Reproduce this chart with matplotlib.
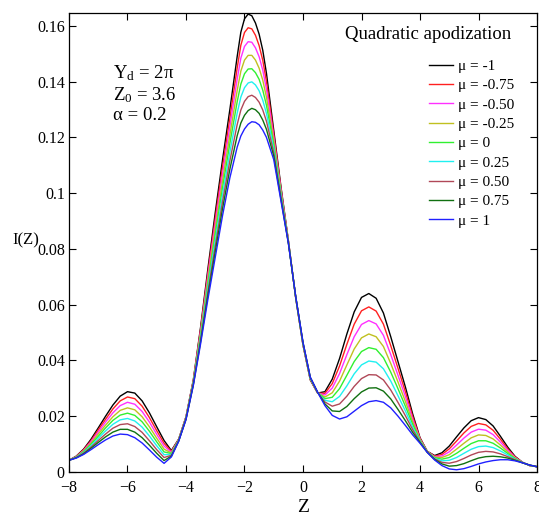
import matplotlib
matplotlib.use("Agg")
import matplotlib.pyplot as plt
import numpy as np
from matplotlib.ticker import FuncFormatter

plt.rcParams['font.family'] = ['Liberation Serif', 'DejaVu Serif']
plt.rcParams['mathtext.fontset'] = 'custom'
plt.rcParams['mathtext.rm'] = 'Liberation Serif'
plt.rcParams['mathtext.it'] = 'Liberation Serif:italic'

# Z grid: step 0.25, finer (0.125) over the top of the main peak
z = np.r_[np.arange(-8, -2.2, 0.25), np.arange(-2.125, -1.3, 0.125), np.arange(-1.25, 8.01, 0.25)]

# I(Z), in units of 1e-3
mu_m100 = [4.2, 5.7, 8.2, 11.7, 15.8, 20.0, 24.0, 27.2, 28.8, 28.3, 25.5, 21.2, 16.2,
           11.3, 7.7, 11.8, 19.8, 33.0, 52.0, 73.0, 93.0, 112.0, 130.0, 149.0, 157.7, 162.5, 164.2, 163.6,
           161.0, 157.0, 151.2, 143.0, 122.5, 102.0, 83.0, 62.5, 45.5, 33.0, 28.3, 28.8, 33.3, 40.7, 49.5,
           57.4, 62.6, 64.0, 62.3, 57.0, 48.5, 39.5, 30.5, 20.8, 12.3, 7.4, 5.9, 6.9,
           9.3, 12.6, 15.8, 18.4, 19.5, 18.8, 16.5, 12.8, 8.9, 5.6, 3.5, 2.3, 1.9]
mu_m075 = [4.2, 5.6, 8.0, 11.2, 15.1, 18.9, 22.6, 25.5, 26.9, 26.3, 23.6, 19.5, 14.8,
           10.3, 7.4, 11.7, 19.7, 32.75, 51.3, 71.6, 91.0, 109.5, 126.9, 144.9, 153.05, 157.6, 159.3, 158.9,
           156.6, 152.9, 147.6, 140.1, 121.2, 101.4, 82.9, 62.6, 45.6, 33.1, 28.3, 28.2, 31.7, 38.0, 45.8,
           53.0, 57.8, 59.2, 57.7, 53.0, 45.3, 37.1, 28.8, 19.9, 12.1, 7.35, 5.7, 6.3,
           8.3, 11.1, 14.0, 16.35, 17.4, 16.9, 14.95, 11.75, 8.3, 5.4, 3.5, 2.3, 1.9]
mu_m050 = [4.2, 5.5, 7.7, 10.8, 14.3, 17.9, 21.2, 23.8, 25.0, 24.3, 21.7, 17.9, 13.5,
           9.3, 7.1, 11.6, 19.6, 32.5, 50.5, 70.3, 89.0, 107.0, 123.9, 140.9, 148.4, 152.6, 154.3, 154.1,
           152.1, 148.9, 144.1, 137.3, 119.9, 100.8, 82.8, 62.6, 45.8, 33.3, 28.4, 27.6, 30.1, 35.3, 42.1,
           48.5, 52.9, 54.3, 53.1, 49.0, 42.1, 34.6, 27.1, 18.9, 11.8, 7.3, 5.5, 5.75,
           7.25, 9.65, 12.15, 14.3, 15.35, 15.0, 13.4, 10.7, 7.8, 5.2, 3.45, 2.35, 1.9]
mu_m025 = [4.2, 5.4, 7.5, 10.3, 13.6, 16.8, 19.8, 22.1, 23.0, 22.3, 19.8, 16.2, 12.1,
           8.2, 6.8, 11.5, 19.4, 32.25, 49.8, 68.9, 87.0, 104.5, 120.8, 136.8, 143.75, 147.7, 149.4, 149.4,
           147.7, 144.8, 140.5, 134.4, 118.6, 100.1, 82.6, 62.7, 45.9, 33.4, 28.4, 26.9, 28.4, 32.6, 38.4,
           44.1, 48.1, 49.5, 48.5, 45.0, 38.9, 32.2, 25.3, 18.0, 11.6, 7.25, 5.3, 5.2,
           6.2, 8.2, 10.3, 12.25, 13.3, 13.1, 11.85, 9.65, 7.2, 5.0, 3.4, 2.4, 1.9]
mu_000 = [4.2, 5.35, 7.3, 9.9, 12.8, 15.8, 18.5, 20.4, 21.1, 20.3, 18.0, 14.6, 10.8,
          7.2, 6.6, 11.4, 19.3, 32.0, 49.0, 67.5, 85.0, 102.0, 117.8, 132.8, 139.1, 142.8, 144.5, 144.6,
          143.2, 140.8, 136.9, 131.5, 117.3, 99.5, 82.5, 62.8, 46.0, 33.5, 28.5, 26.3, 26.8, 29.9, 34.7,
          39.6, 43.2, 44.6, 44.0, 41.0, 35.8, 29.8, 23.6, 17.1, 11.3, 7.2, 5.1, 4.6,
          5.2, 6.7, 8.5, 10.2, 11.2, 11.2, 10.3, 8.6, 6.65, 4.8, 3.4, 2.4, 1.9]
mu_p025 = [4.2, 5.3, 7.0, 9.4, 12.1, 14.7, 17.1, 18.7, 19.2, 18.3, 16.1, 12.9, 9.4,
           6.2, 6.3, 11.3, 19.2, 31.75, 48.3, 66.1, 83.0, 99.5, 114.7, 128.7, 134.45, 137.8, 139.5, 139.9,
           138.8, 136.7, 133.3, 128.6, 115.9, 98.9, 82.4, 62.8, 46.1, 33.6, 28.5, 25.7, 25.2, 27.1, 30.9,
           35.2, 38.4, 39.8, 39.4, 37.0, 32.6, 27.3, 21.9, 16.1, 11.1, 7.15, 4.9, 4.0,
           4.2, 5.2, 6.7, 8.15, 9.1, 9.3, 8.75, 7.55, 6.1, 4.6, 3.4, 2.4, 1.9]
mu_p050 = [4.2, 5.2, 6.8, 8.9, 11.3, 13.6, 15.7, 17.0, 17.3, 16.3, 14.2, 11.2, 8.0,
           5.2, 6.0, 11.2, 19.1, 31.5, 47.5, 64.8, 81.0, 97.0, 111.6, 124.6, 129.8, 132.9, 134.6, 135.1,
           134.3, 132.6, 129.8, 125.8, 114.6, 98.3, 82.3, 62.9, 46.3, 33.8, 28.5, 25.1, 23.6, 24.4, 27.2,
           30.7, 33.5, 34.9, 34.8, 33.0, 29.4, 24.9, 20.2, 15.2, 10.8, 7.1, 4.7, 3.45,
           3.15, 3.75, 4.85, 6.1, 7.05, 7.4, 7.2, 6.5, 5.5, 4.4, 3.35, 2.45, 1.9]
mu_p075 = [4.2, 5.1, 6.5, 8.5, 10.6, 12.6, 14.3, 15.3, 15.3, 14.3, 12.3, 9.6, 6.7,
           4.1, 5.7, 11.1, 18.9, 31.25, 46.8, 63.4, 79.0, 94.5, 108.6, 120.6, 125.15, 127.9, 129.6, 130.4,
           129.9, 128.6, 126.2, 122.9, 113.3, 97.6, 82.1, 62.9, 46.4, 33.9, 28.6, 24.4, 21.9, 21.7, 23.5,
           26.3, 28.7, 30.1, 30.2, 29.0, 26.2, 22.4, 18.4, 14.2, 10.6, 7.05, 4.5, 2.9,
           2.1, 2.3, 3.0, 4.05, 5.0, 5.5, 5.65, 5.45, 5.0, 4.2, 3.3, 2.5, 1.9]
mu_p100 = [4.2, 5.0, 6.3, 8.0, 9.8, 11.5, 12.9, 13.6, 13.4, 12.3, 10.4, 7.9, 5.3,
           3.1, 5.4, 11.0, 18.8, 31.0, 46.0, 62.0, 77.0, 92.0, 105.5, 116.5, 120.5, 123.0, 124.7, 125.6,
           125.4, 124.5, 122.6, 120.0, 112.0, 97.0, 82.0, 63.0, 46.5, 34.0, 28.6, 23.8, 20.3, 19.0, 19.8,
           21.8, 23.8, 25.2, 25.6, 25.0, 23.0, 20.0, 16.7, 13.3, 10.3, 7.0, 4.3, 2.3,
           1.1, 0.8, 1.2, 2.0, 2.9, 3.6, 4.1, 4.4, 4.4, 4.0, 3.3, 2.5, 1.9]

series = [mu_m100, mu_m075, mu_m050, mu_m025, mu_000, mu_p025, mu_p050, mu_p075, mu_p100]
labels = ["μ = -1", "μ = -0.75", "μ = -0.50", "μ = -0.25", "μ = 0",
          "μ = 0.25", "μ = 0.50", "μ = 0.75", "μ = 1"]
colors = ["#000000", "#ff2020", "#ff30ff", "#c0c020", "#30f030",
          "#20f0f0", "#b04858", "#107010", "#2020ff"]

fig = plt.figure(figsize=(5.39, 5.2), dpi=100)
ax = fig.add_axes([0.128, 0.0923, 0.8683, 0.8833])

for s, lab, c in zip(series, labels, colors):
    ax.plot(z, np.array(s) * 1e-3, color=c, lw=1.0, label=lab)

ax.set_xlim(-8, 8)
ax.set_ylim(0, 0.1647)
ax.set_xticks(np.arange(-8, 9, 2))
ax.set_yticks(np.arange(0, 0.161, 0.02))
ax.yaxis.set_major_formatter(FuncFormatter(lambda v, p: "%g" % round(v, 2)))
ax.tick_params(direction='in', top=True, right=True, length=5, width=0.8,
               labelsize=11.5)
ax.tick_params(axis='y', pad=3)
ax.tick_params(axis='x', pad=6)
for sp in ax.spines.values():
    sp.set_linewidth(0.9)

ax.set_xlabel("Z", fontsize=14, labelpad=2)
ax.set_ylabel("I(Z)", fontsize=12, rotation=0, va='center', ha='center')
ax.yaxis.set_label_coords(-0.092, 0.505)

ax.text(0.095, 0.89, "Y$_\\mathrm{d}$ = 2π\nZ$_0$ = 3.6\nα = 0.2",
        transform=ax.transAxes, fontsize=13.5, va='top', linespacing=1.15)
ax.text(0.767, 0.952, "Quadratic apodization", transform=ax.transAxes,
        fontsize=13.5, ha='center', va='center')

leg = ax.legend(loc='upper right', bbox_to_anchor=(0.975, 0.922), frameon=False,
                fontsize=11, handlelength=1.6, handletextpad=0.35,
                labelspacing=0.37, borderaxespad=0.3)

fig.savefig("out.png", dpi=100)
